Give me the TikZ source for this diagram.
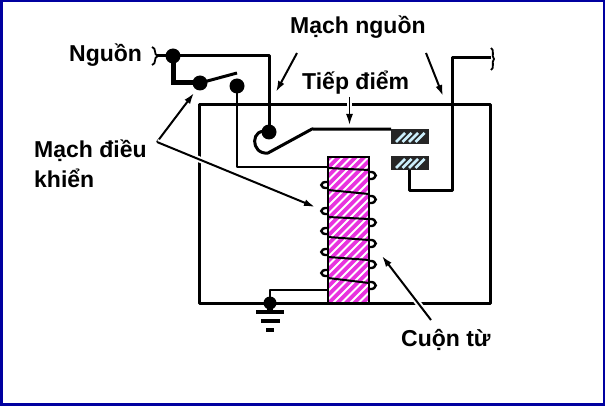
\documentclass[tikz,border=0pt]{standalone}
\usepackage{fontspec}
\setmainfont{Liberation Sans}
\usetikzlibrary{calc, arrows.meta}
\definecolor{framecol}{RGB}{0,0,160}
\definecolor{corecol}{RGB}{232,50,222}
\tikzset{
  wire/.style={line width=3pt, line join=round},
  thinwire/.style={line width=2.4pt, line join=round},
  pointer/.style={line width=2pt, -{Latex[length=11pt,width=7pt]}},
  halo/.style={line width=6pt, draw=white},
  lbl/.style={font=\bfseries\fontsize{23}{26}\selectfont, inner sep=0pt, anchor=west},
  dot/.style={circle, fill=black, inner sep=0pt, minimum size=15pt},
  loopl/.style={line width=2.4pt},
}
\begin{document}
\begin{tikzpicture}[x=1pt,y=-1pt]
      \useasboundingbox (0,0) rectangle (605,406);
      \fill[framecol] (0,0) rectangle (605,406);
      \fill[white] (3,2) rectangle (603,403);
      % relay box
      \coordinate (boxa) at (347,105);
      \coordinate (boxb) at (199,105);
      \coordinate (boxc) at (199,303);
      \coordinate (boxd) at (490,303);
      \coordinate (boxe) at (490,105);
      \coordinate (boxf) at (352,105);
      \draw[wire] (boxa) -- (boxb) -- (boxc) -- (boxd) -- (boxe) -- (boxf);
      % junctions
      \node[dot] (src) at (173,56) {};
      \node[dot] (sw1) at (200,83) {};
      \node[dot] (sw2) at (237,86) {};
      \node[dot] (pivot) at (269,132) {};
      \coordinate (srcl) at (157,56);
      \coordinate (top) at (269,56);
      \coordinate (low) at (173,83);
      \draw[wire] (srcl) -- (src.center);
      \draw[wire] (src.center) -- (top) -- (pivot.center);
      \draw[line width=5pt, line join=miter] (src.center) -- (low) -- (sw1.center);
      \coordinate (armend) at (237,73);
      \draw[wire] (sw1.center) -- (armend);
      % supply end marks
      \draw[line width=1.8pt] (152,47) .. controls (157,48) and (153,55) .. (158,56) .. controls (153,57) and (157,64) .. (152,65);
      \draw[line width=1.8pt] (491,48) .. controls (495,50) and (491,56) .. (494,59) .. controls (491,62) and (495,68) .. (491,70);
      % coil loops, behind the core
      \foreach \yy in {185,211,231,252,273} {
        \draw[loopl] (328,\yy-3) .. controls (319,\yy-4) and (319,\yy+4) .. (328,\yy+3);
      }
      \foreach \yy in {176,200,223,244,265,286} {
        \draw[loopl] (369,\yy-4) .. controls (378,\yy-5) and (378,\yy+4) .. (369,\yy+3);
      }
      % core
      \fill[corecol] (328,157) rectangle (369,303);
      \begin{scope}
        \clip (328,157) rectangle (369,303);
        \foreach \xx in {0,...,24} {
          \draw[white, line width=2pt] (180+\xx*8.5,303) -- ++(160,-160);
        }
      \end{scope}
      \foreach \ya/\yb in {168/170,190/194,217/219,237/240,257/260,278/283} {
        \draw[line width=2pt] (328,\ya) -- (369,\yb);
      }
      \node[draw, line width=2.2pt, inner sep=0pt, minimum width=41pt, minimum height=146pt] (core) at (348.5,230) {};
      % coil wiring
      \coordinate (coilin) at (237,167);
      \coordinate (corein) at (328,167);
      \draw[thinwire] (sw2.center) -- (coilin) -- (corein);
      \coordinate (gnd) at (270,290);
      \coordinate (coreout) at (328,290);
      \coordinate (gndb) at (270,312);
      \draw[thinwire] (coreout) -- (gnd) -- (gndb);
      \draw[line width=6pt] (270,298) -- (gndb);
      \node[circle, fill=black, inner sep=0pt, minimum size=13pt] (gndblob) at (270,303) {};
      \node[fill=black, inner sep=0pt, minimum width=28pt, minimum height=4.5pt] (gnd1) at (270,312) {};
      \node[fill=black, inner sep=0pt, minimum width=19pt, minimum height=4pt] (gnd2) at (270,321) {};
      \node[fill=black, inner sep=0pt, minimum width=8pt, minimum height=4pt] (gnd3) at (270,329.5) {};
      % contacts
      \node[draw, line width=1.8pt, fill=white, inner sep=0pt, minimum width=36pt, minimum height=13pt] (upper) at (410,136.5) {};
      \node[draw, line width=1.8pt, fill=white, inner sep=0pt, minimum width=36pt, minimum height=12pt] (lower) at (410,163) {};
      \foreach \cc in {upper,lower} {
        \begin{scope}
          \clip (\cc.south west) rectangle (\cc.north east);
          \fill[black!85] (\cc.south west) rectangle (\cc.north east);
          \foreach \xx in {0,...,3} {
            \draw[white!80!cyan, line width=2.6pt] ($(\cc.south west)+(5+\xx*6.5,-2)$) -- ++(9,-9);
          }
        \end{scope}
      }
      % moving arm
      \coordinate (bend) at (312,129);
      \coordinate (curl) at (268,153);
      \draw[wire] (pivot.center) .. controls (250,126) and (250,155) .. (curl) -- (bend) -- (upper.north west);
      % load side
      \coordinate (la) at (409,191);
      \coordinate (lb) at (452,191);
      \coordinate (lc) at (452,58);
      \coordinate (ld) at (491,58);
      \draw[wire] (lower.south) ++(-1,0) -- (la) -- (lb) -- (lc) -- (ld);
      % pointers
      \coordinate (pa) at (297,53);
      \coordinate (pb) at (276,92);
      \coordinate (pc) at (426,53);
      \coordinate (pd) at (443,96);
      \coordinate (pe) at (349.5,97);
      \coordinate (pf) at (349.5,125);
      \coordinate (pg) at (157,142);
      \coordinate (ph) at (194,93);
      \coordinate (pi) at (315,207);
      \coordinate (pj) at (431,320);
      \coordinate (pk) at (382,256);
      \draw[pointer] (pa) -- (pb);
      \draw[pointer] (pc) -- (pd);
      \draw[pointer, line width=1.6pt] (pe) -- (pf);
      \draw[pointer] (pg) -- (ph);
      \draw[halo] (pg) -- (pi);
      \draw[pointer] (pg) -- (pi);
      \draw[halo] (pj) -- (pk);
      \draw[pointer] (pj) -- (pk);
      % labels
      \node[lbl] (nguon) at (69,55) {Nguồn};
      \node[lbl] (machnguon) at (290,27) {Mạch nguồn};
      \node[lbl] (tiepdiem) at (302,83) {Tiếp điểm};
      \node[lbl] (machdieu) at (34,151) {Mạch điều};
      \node[lbl] (khien) at (34,178) {khiển};
      \node[lbl] (cuontu) at (401,340) {Cuộn từ};
    \end{tikzpicture}
\end{document}
